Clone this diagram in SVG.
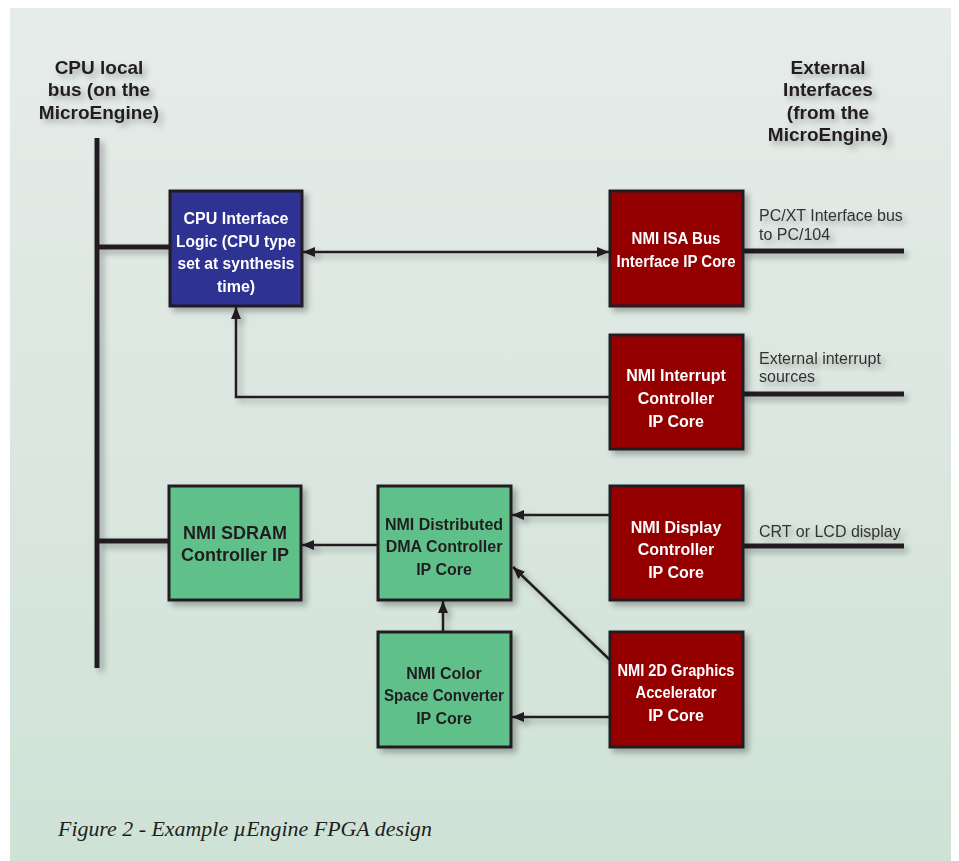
<svg xmlns="http://www.w3.org/2000/svg" width="959" height="861" viewBox="0 0 959 861">
<defs>
<linearGradient id="bg" x1="0" y1="0" x2="0" y2="1">
<stop offset="0" stop-color="#e6ecea"/>
<stop offset="0.5" stop-color="#dbe7e0"/>
<stop offset="1" stop-color="#cfe2d6"/>
</linearGradient>
<filter id="sh" x="-20%" y="-20%" width="150%" height="150%">
<feGaussianBlur in="SourceAlpha" stdDeviation="3"/>
<feOffset dx="4" dy="4" result="b"/>
<feComponentTransfer><feFuncA type="linear" slope="0.3"/></feComponentTransfer>
<feMerge><feMergeNode/><feMergeNode in="SourceGraphic"/></feMerge>
</filter>
<marker id="ah" viewBox="0 0 12 10" refX="12" refY="5" markerWidth="12" markerHeight="10" markerUnits="userSpaceOnUse" orient="auto-start-reverse">
<path d="M0,0 L12,5 L0,10 Z" fill="#231f20"/>
</marker>
<style>
.box{stroke:#231f20;stroke-width:3}
.blue{fill:#2e3192}
.red{fill:#940006}
.green{fill:#60c08a}
.wt{font-family:"Liberation Sans",Arial,sans-serif;font-weight:bold;font-size:16px;fill:#ffffff;text-anchor:middle}
.bt{font-family:"Liberation Sans",Arial,sans-serif;font-weight:bold;font-size:16px;fill:#231f20;text-anchor:middle}
.hd{font-family:"Liberation Sans",Arial,sans-serif;font-weight:bold;font-size:19px;fill:#231f20;text-anchor:middle}
.sm{font-family:"Liberation Sans",Arial,sans-serif;font-size:16px;fill:#333333}
.bus{stroke:#231f20;stroke-width:5;fill:none}
.cn{stroke:#231f20;stroke-width:2.5;fill:none}
</style>
</defs>
<rect x="0" y="0" width="959" height="861" fill="#ffffff"/>
<rect x="10" y="8" width="941" height="853" fill="url(#bg)"/>

<g id="headers" filter="url(#sh)">
<text class="hd" x="99" y="74">CPU local</text>
<text class="hd" x="99" y="96">bus (on the</text>
<text class="hd" x="99" y="119">MicroEngine)</text>
<text class="hd" x="828" y="74">External</text>
<text class="hd" x="828" y="96">Interfaces</text>
<text class="hd" x="828" y="119">(from the</text>
<text class="hd" x="828" y="141">MicroEngine)</text>
</g>

<g id="connectors" filter="url(#sh)">
<line class="bus" x1="97" y1="138" x2="97" y2="668"/>
<line class="bus" x1="97" y1="247" x2="170" y2="247"/>
<line class="bus" x1="97" y1="541" x2="169" y2="541"/>
<line class="bus" x1="743" y1="251" x2="904" y2="251"/>
<line class="bus" x1="743" y1="394" x2="904" y2="394"/>
<line class="bus" x1="743" y1="546" x2="904" y2="546"/>
<line class="cn" x1="303" y1="252" x2="609" y2="252" marker-start="url(#ah)" marker-end="url(#ah)"/>
<polyline class="cn" points="610,397 236,397 236,307" marker-end="url(#ah)"/>
<line class="cn" x1="378" y1="545" x2="302" y2="545" marker-end="url(#ah)"/>
<line class="cn" x1="610" y1="515" x2="512" y2="515" marker-end="url(#ah)"/>
<line class="cn" x1="610" y1="660" x2="513" y2="567" marker-end="url(#ah)"/>
<line class="cn" x1="610" y1="717" x2="512" y2="717" marker-end="url(#ah)"/>
<line class="cn" x1="443" y1="632" x2="443" y2="601" marker-end="url(#ah)"/>
</g>

<g id="cpu-interface" filter="url(#sh)">
<rect class="box blue" x="170" y="191" width="132" height="115"/>
<text class="wt" x="236" y="224">CPU Interface</text>
<text class="wt" x="236" y="247" textLength="120" lengthAdjust="spacingAndGlyphs">Logic (CPU type</text>
<text class="wt" x="236" y="269" textLength="117" lengthAdjust="spacingAndGlyphs">set at synthesis</text>
<text class="wt" x="236" y="292">time)</text>
</g>

<g id="isa-bus" filter="url(#sh)">
<rect class="box red" x="610" y="191" width="133" height="115"/>
<text class="wt" x="676" y="244" textLength="89" lengthAdjust="spacingAndGlyphs">NMI ISA Bus</text>
<text class="wt" x="676" y="267" textLength="119" lengthAdjust="spacingAndGlyphs">Interface IP Core</text>
</g>

<g id="interrupt" filter="url(#sh)">
<rect class="box red" x="610" y="335" width="133" height="114"/>
<text class="wt" x="676" y="381">NMI Interrupt</text>
<text class="wt" x="676" y="404">Controller</text>
<text class="wt" x="676" y="427">IP Core</text>
</g>

<g id="sdram" filter="url(#sh)">
<rect class="box green" x="169" y="486" width="132" height="114"/>
<text class="bt" x="235" y="539" style="font-size:18px">NMI SDRAM</text>
<text class="bt" x="235" y="561" style="font-size:18px">Controller IP</text>
</g>

<g id="dma" filter="url(#sh)">
<rect class="box green" x="378" y="486" width="133" height="114"/>
<text class="bt" x="444" y="530">NMI Distributed</text>
<text class="bt" x="444" y="552">DMA Controller</text>
<text class="bt" x="444" y="575">IP Core</text>
</g>

<g id="display" filter="url(#sh)">
<rect class="box red" x="610" y="486" width="133" height="114"/>
<text class="wt" x="676" y="533">NMI Display</text>
<text class="wt" x="676" y="555">Controller</text>
<text class="wt" x="676" y="578">IP Core</text>
</g>

<g id="color-space" filter="url(#sh)">
<rect class="box green" x="378" y="632" width="133" height="115"/>
<text class="bt" x="444" y="679">NMI Color</text>
<text class="bt" x="444" y="701" textLength="120" lengthAdjust="spacingAndGlyphs">Space Converter</text>
<text class="bt" x="444" y="724">IP Core</text>
</g>

<g id="graphics-2d" filter="url(#sh)">
<rect class="box red" x="610" y="632" width="133" height="115"/>
<text class="wt" x="676" y="676" textLength="117" lengthAdjust="spacingAndGlyphs">NMI 2D Graphics</text>
<text class="wt" x="676" y="698" textLength="81" lengthAdjust="spacingAndGlyphs">Accelerator</text>
<text class="wt" x="676" y="721">IP Core</text>
</g>

<g id="ext-labels" filter="url(#sh)">
<text class="sm" x="759" y="221">PC/XT Interface bus</text>
<text class="sm" x="759" y="240">to PC/104</text>
<text class="sm" x="759" y="364">External interrupt</text>
<text class="sm" x="759" y="382">sources</text>
<text class="sm" x="759" y="537">CRT or LCD display</text>
</g>

<text x="58" y="836" font-family="'Liberation Serif','Times New Roman',serif" font-style="italic" font-size="21" fill="#231f20" textLength="374" lengthAdjust="spacingAndGlyphs">Figure 2 - Example µEngine FPGA design</text>
</svg>
